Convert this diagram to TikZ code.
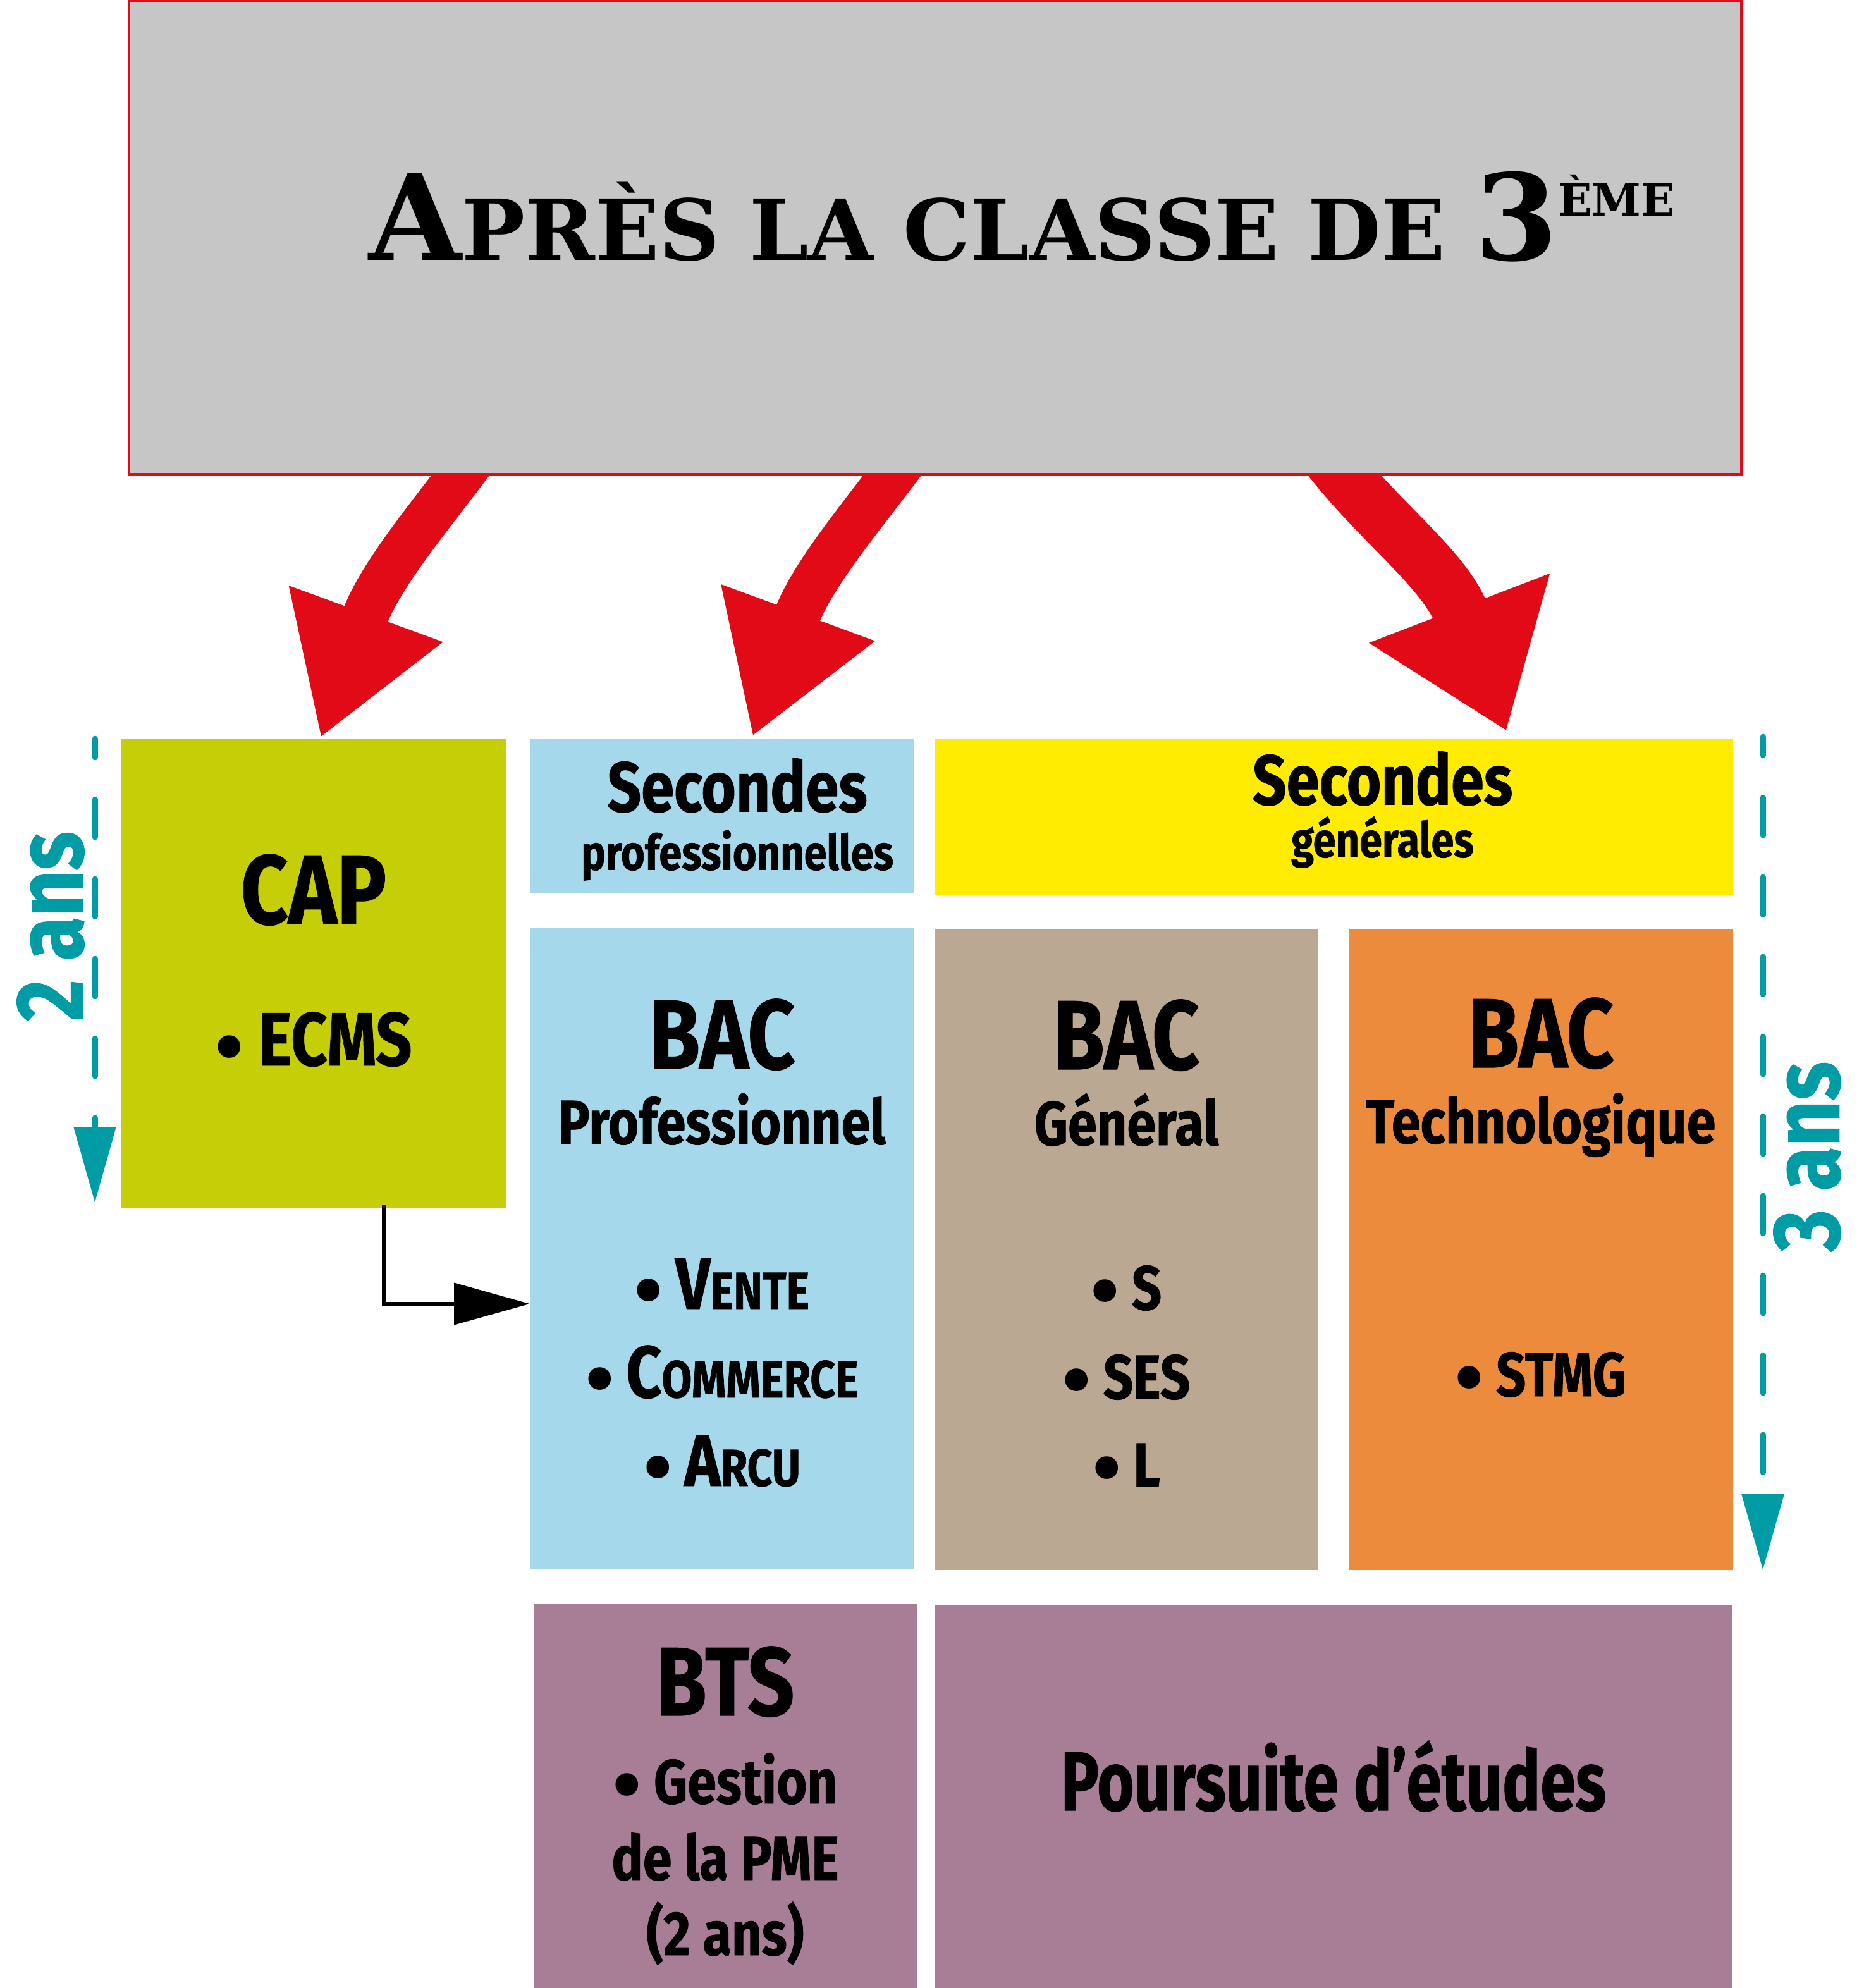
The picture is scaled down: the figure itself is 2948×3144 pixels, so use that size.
\documentclass[tikz,border=0pt]{standalone}
\usepackage{fontspec}
\setmainfont{Fira Sans}[FakeStretch=0.84, BoldFeatures={FakeBold=0.8}]
\newfontfamily\narrowfont{Fira Sans}[FakeStretch=0.76, BoldFeatures={FakeBold=0.8}]
\newfontfamily\plainfont{Fira Sans}
\newfontfamily\titlefont{DejaVu Serif}
\usepackage{tikz}
\usetikzlibrary{arrows.meta,positioning,backgrounds}

\definecolor{titlegray}{HTML}{C6C6C6}
\definecolor{arrowred}{HTML}{E30A17}
\definecolor{capgreen}{HTML}{C5CE06}
\definecolor{problue}{HTML}{A4D8EA}
\definecolor{genyellow}{HTML}{FFEC00}
\definecolor{gentan}{HTML}{BBA893}
\definecolor{techorange}{HTML}{ED8B3D}
\definecolor{btsmauve}{HTML}{A87D96}
\definecolor{durteal}{HTML}{009CA6}

\newcommand\fsz[1]{\fontsize{#1}{0pt}\selectfont}
\newcommand\tightrows{\lineskiplimit=-1000pt\relax}
\newcommand\scap[2]{{\fsz{33pt}#1}{\fsz{23.5pt}#2}}
\newcommand\bul{\raisebox{-4pt}{\plainfont\fsz{36.6pt}\textbullet}}

\begin{document}
\begin{tikzpicture}[
  x=0.1mm, y=-0.1mm,
  box/.style ={inner sep=0pt, outer sep=0pt},
  titlebox/.style={box, draw=arrowred, line width=0.4mm, fill=titlegray,
              minimum width=255mm, minimum height=74.9mm},
  txt/.style ={inner sep=0pt, align=center,
              font=\bfseries\fsz{28pt}\tightrows},
  dur/.style ={inner sep=0pt, text=durteal, font=\bfseries\fsz{43pt}, rotate=90},
  redarr/.style={draw=arrowred, line width=7.3mm,
              -{Triangle[length=20.9mm, width=24.4mm]}},
  blackarr/.style={draw=black, line width=0.7mm,
              -{Triangle[length=12mm, width=6.5mm]}},
  durarr/.style={draw=durteal, line width=0.9mm, line cap=round,
              dash pattern=on 6mm off 6.6mm, dash phase=3mm,
              -{Triangle[length=12mm, width=6.5mm]}}
]
\useasboundingbox (0,0) rectangle (2948,3144);

% title
\node[titlebox] (title) at (1479,375.5) {};
\node[inner sep=0pt, anchor=base west] (titletext)
      at ([xshift=37.9mm, yshift=-3.55mm]title.west)
      {\titlefont\bfseries\fsz{53.8pt}A\fsz{37.9pt}PRÈS LA CLASSE DE
       \fsz{53.8pt}3\raisebox{19.8pt}{\fsz{20pt}ÈME}};

% boxes
\node[box, fill=capgreen, minimum width=60.8mm, minimum height=74.2mm] (cap) at (496,1539) {};
\node[box, fill=problue, minimum width=60.8mm, minimum height=24.5mm,
      right=3.8mm of cap.north east, anchor=north west] (secpro) {};
\node[box, fill=genyellow, minimum width=126.3mm, minimum height=24.7mm,
      right=3.2mm of secpro.north east, anchor=north west] (secgen) {};
\node[box, fill=problue, minimum width=60.8mm, minimum height=101.4mm,
      below=5.4mm of secpro.south west, anchor=north west] (bacpro) {};
\node[box, fill=gentan, minimum width=60.7mm, minimum height=101.4mm,
      below=5.4mm of secgen.south west, anchor=north west] (bacgen) {};
\node[box, fill=techorange, minimum width=60.8mm, minimum height=101.4mm,
      below=5.4mm of secgen.south east, anchor=north east] (bactech) {};
\node[box, fill=btsmauve, minimum width=60.6mm, minimum height=60.8mm,
      below=5.5mm of bacpro.south west, anchor=north west, xshift=0.6mm] (bts) {};
\node[box, fill=btsmauve, minimum width=126.2mm, minimum height=60.8mm,
      below=5.5mm of bacgen.south west, anchor=north west] (suite) {};

% texts
\node[txt, below=18.2mm of cap.north] (capt)
      {{\fsz{44.2pt}CAP}\\[22.4mm]{\fsz{33.9pt}\bul{} ECMS}};
\node[txt, below=3.0mm of secpro.north, xshift=2.4mm] (secprot)
      {{\fsz{31.8pt}Secondes}\\[9.2mm]{\fsz{22pt}professionnelles}};
\node[txt, below=1.9mm of secgen.north, xshift=7.7mm] (secgent)
      {{\fsz{31.8pt}Secondes}\\[8.3mm]{\fsz{22pt}générales}};
\node[txt, below=11.2mm of bacpro.north] (bacprot)
      {{\fsz{44.2pt}BAC}\\[11.9mm]Professionnel\\[26.1mm]
       \bul{} \scap{V}{ENTE}\\[14mm]\bul{} \scap{C}{OMMERCE}\\[14mm]
       \bul{} \scap{A}{RCU}};
\node[txt, below=11.1mm of bacgen.north] (bacgent)
      {{\fsz{44.2pt}BAC}\\[12mm]Général\\[26mm]\bul{} S\\[14.1mm]
       \bul{} SES\\[13.9mm]\bul{} L};
\node[txt, below=10.8mm of bactech.north] (bactecht)
      {{\fsz{44.2pt}BAC}\\[12mm]Technologique\\[40mm]\bul{} STMG};
\node[txt, below=6.7mm of bts.north] (btst)
      {{\fsz{43.8pt}BTS}\\[13.9mm]\bul{} Gestion\\[12.1mm]de la PME\\[11.9mm](2 ans)};
\node[txt, below=21.4mm of suite.north] (suitet) {{\narrowfont\fsz{37.6pt}Poursuite d’études}};

% durations
\node[dur] (deuxans) at ([xshift=-11.2mm, yshift=7.4mm]cap.west) {2 ans};
\node[dur] (troisans) at ([xshift=11.7mm, yshift=14.7mm]bactech.east) {3 ans};
\draw[durarr] ([xshift=-4.2mm]cap.north west) -- ([xshift=-4.2mm, yshift=0.8mm]cap.south west);
\draw[durarr] ([xshift=4.7mm, yshift=0.3mm]secgen.north east) -- ([xshift=4.7mm]bactech.south east);

% CAP towards BAC pro
\draw[blackarr] ([xshift=11.1mm, yshift=0.5mm]cap.south) |- ([yshift=-8.8mm]bacpro.west);

% red arrows under the title box
\begin{pgfonlayer}{background}
\coordinate (t1) at (767,700);
\coordinate (t2) at (1450,700);
\coordinate (t3) at (2085,700);
\draw[redarr] (t1) .. controls (685,812) and (603,904) .. ([xshift=1.1mm, yshift=0.1mm]cap.north);
\draw[redarr] (t2) .. controls (1368,812) and (1286,904) .. ([xshift=4.8mm, yshift=0.3mm]secpro.north);
\draw[redarr, line width=8.8mm, -{Triangle[length=20.8mm, width=29.2mm]}]
      (t3) .. controls (2168,817) and (2282,894) .. ([xshift=27.3mm, yshift=1.2mm]secgen.north);
\end{pgfonlayer}
\end{tikzpicture}
\end{document}
